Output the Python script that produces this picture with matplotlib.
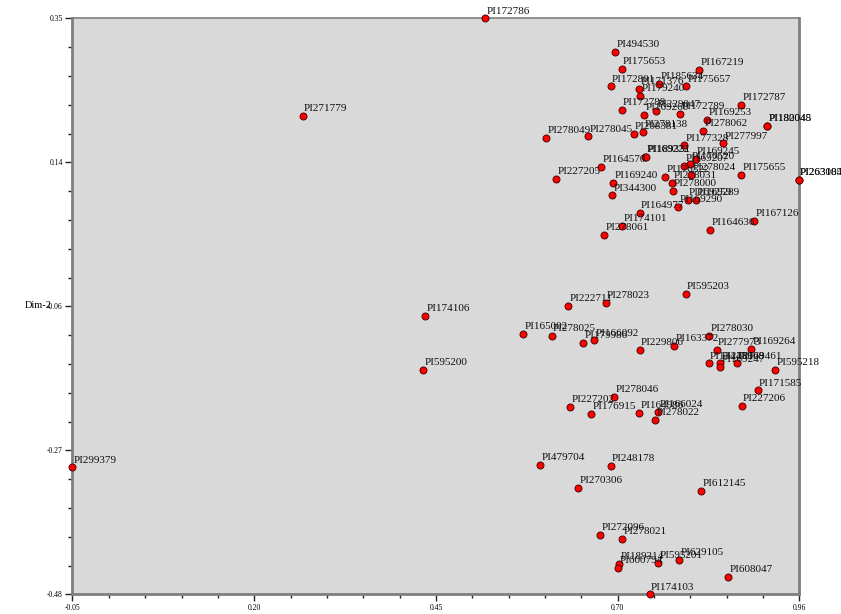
"""Dim-1 / Dim-2 scatter of accessions (PI numbers) with point labels."""

import matplotlib
matplotlib.use("Agg")
import matplotlib.pyplot as plt
import numpy as np

# --- data ---------------------------------------------------------------------------
labels = [
    "PI172786", "PI494530", "PI175653", "PI167219", "PI172801", "PI171376", "PI185634",
    "PI179240", "PI175657", "PI172788", "PI169260", "PI229047", "PI172789", "PI172787",
    "PI169253", "PI182045", "PI180048", "PI278062", "PI278049", "PI278045", "PI208381",
    "PI278138", "PI277997", "PI177328", "PI169222", "PI189331", "PI169245", "PI170520",
    "PI169207", "PI176522", "PI278024", "PI278031", "PI278000", "PI175655", "PI263085",
    "PI263104", "PI164570", "PI227205", "PI169240", "PI344300", "PI164977", "PI169290",
    "PI169259", "PI169289", "PI174101", "PI278061", "PI164636", "PI167126", "PI271779",
    "PI174106", "PI595200", "PI299379", "PI595203", "PI222711", "PI278023", "PI165002",
    "PI278025", "PI179986", "PI166092", "PI229806", "PI163372", "PI278030", "PI277973",
    "PI169264", "PI134459", "PI278008", "PI169247", "PI169461", "PI595218", "PI171585",
    "PI227206", "PI278046", "PI227202", "PI176915", "PI164986", "PI166024", "PI278022",
    "PI479704", "PI248178", "PI270306", "PI612145", "PI272096", "PI278021", "PI189314",
    "PI600794", "PI595201", "PI629105", "PI608047", "PI174103",
]
dim1 = [
    0.523, 0.704, 0.713, 0.821, 0.698, 0.737, 0.765,
    0.739, 0.803, 0.713, 0.744, 0.761, 0.794, 0.879,
    0.832, 0.915, 0.915, 0.826, 0.608, 0.667, 0.730,
    0.743, 0.854, 0.800, 0.746, 0.747, 0.816, 0.808,
    0.800, 0.774, 0.810, 0.783, 0.784, 0.879, 0.959,
    0.959, 0.685, 0.622, 0.701, 0.700, 0.738, 0.792,
    0.805, 0.816, 0.714, 0.689, 0.836, 0.897, 0.270,
    0.440, 0.437, -0.050, 0.802, 0.639, 0.691, 0.576,
    0.616, 0.660, 0.675, 0.738, 0.786, 0.835, 0.845,
    0.893, 0.834, 0.850, 0.850, 0.874, 0.926, 0.902,
    0.880, 0.703, 0.642, 0.671, 0.737, 0.764, 0.760,
    0.600, 0.698, 0.653, 0.824, 0.683, 0.714, 0.710,
    0.708, 0.764, 0.793, 0.861, 0.752,
]
dim2 = [
    0.350, 0.302, 0.277, 0.276, 0.252, 0.248, 0.256,
    0.238, 0.252, 0.218, 0.211, 0.216, 0.212, 0.225,
    0.204, 0.195, 0.195, 0.188, 0.178, 0.180, 0.184,
    0.186, 0.170, 0.167, 0.150, 0.151, 0.148, 0.140,
    0.138, 0.122, 0.124, 0.113, 0.102, 0.124, 0.117,
    0.117, 0.136, 0.119, 0.113, 0.095, 0.070, 0.079,
    0.088, 0.088, 0.051, 0.038, 0.045, 0.058, 0.210,
    -0.079, -0.156, -0.297, -0.047, -0.064, -0.060, -0.105,
    -0.107, -0.117, -0.114, -0.128, -0.122, -0.107, -0.128,
    -0.126, -0.147, -0.147, -0.152, -0.147, -0.156, -0.186,
    -0.208, -0.195, -0.210, -0.220, -0.219, -0.217, -0.228,
    -0.293, -0.295, -0.326, -0.331, -0.394, -0.400, -0.436,
    -0.442, -0.434, -0.430, -0.455, -0.480,
]

x_range = (-0.05, 0.96)
y_range = (-0.48, 0.35)
x_tick_labels = ["-0.05", "0.20", "0.45", "0.70", "0.96"]
y_tick_labels = ["-0.48", "-0.27", "-0.06", "0.14", "0.35"]
y_label = "Dim-2"

SERIF = ["Liberation Serif", "DejaVu Serif"]
GRAY = "#7f7f7f"

# --- plot ---------------------------------------------------------------------------
fig = plt.figure(figsize=(8.41, 6.14), dpi=100)
ax = fig.add_axes([0.0862, 0.0318, 0.8642, 0.9381])
ax.set_facecolor("#d9d9d9")
ax.set_xlim(*x_range)
ax.set_ylim(*y_range)

ax.scatter(dim1, dim2, s=26, c="#ff0000", edgecolors="#3a0000", linewidths=0.6,
           zorder=3, clip_on=False)
for name, x, y in zip(labels, dim1, dim2):
    ax.annotate(name, (x, y), xytext=(1, 3.5), textcoords="offset points",
                fontsize=8, family=SERIF, color="#111111", va="baseline",
                annotation_clip=False, zorder=4)

ax.set_xticks(np.linspace(*x_range, 5))
ax.set_xticklabels(x_tick_labels)
ax.set_xticks(np.linspace(*x_range, 21), minor=True)
ax.set_yticks(np.linspace(*y_range, 5))
ax.set_yticklabels(y_tick_labels)
ax.set_yticks(np.linspace(*y_range, 21), minor=True)
ax.tick_params(which="major", length=5, width=1, color="#222222", labelsize=5.5, pad=2)
ax.tick_params(which="minor", length=3, width=1, color="#222222")
for lab in ax.get_xticklabels() + ax.get_yticklabels():
    lab.set_family(SERIF)

for side, spine in ax.spines.items():
    spine.set_color(GRAY)
    spine.set_linewidth(2 if side in ("left", "bottom", "right") else 1.2)

fig.text(0.030, 1 - 306 / 614, y_label, fontsize=7.5, family=SERIF,
         ha="left", va="center")

fig.savefig("out.png", dpi=100)
